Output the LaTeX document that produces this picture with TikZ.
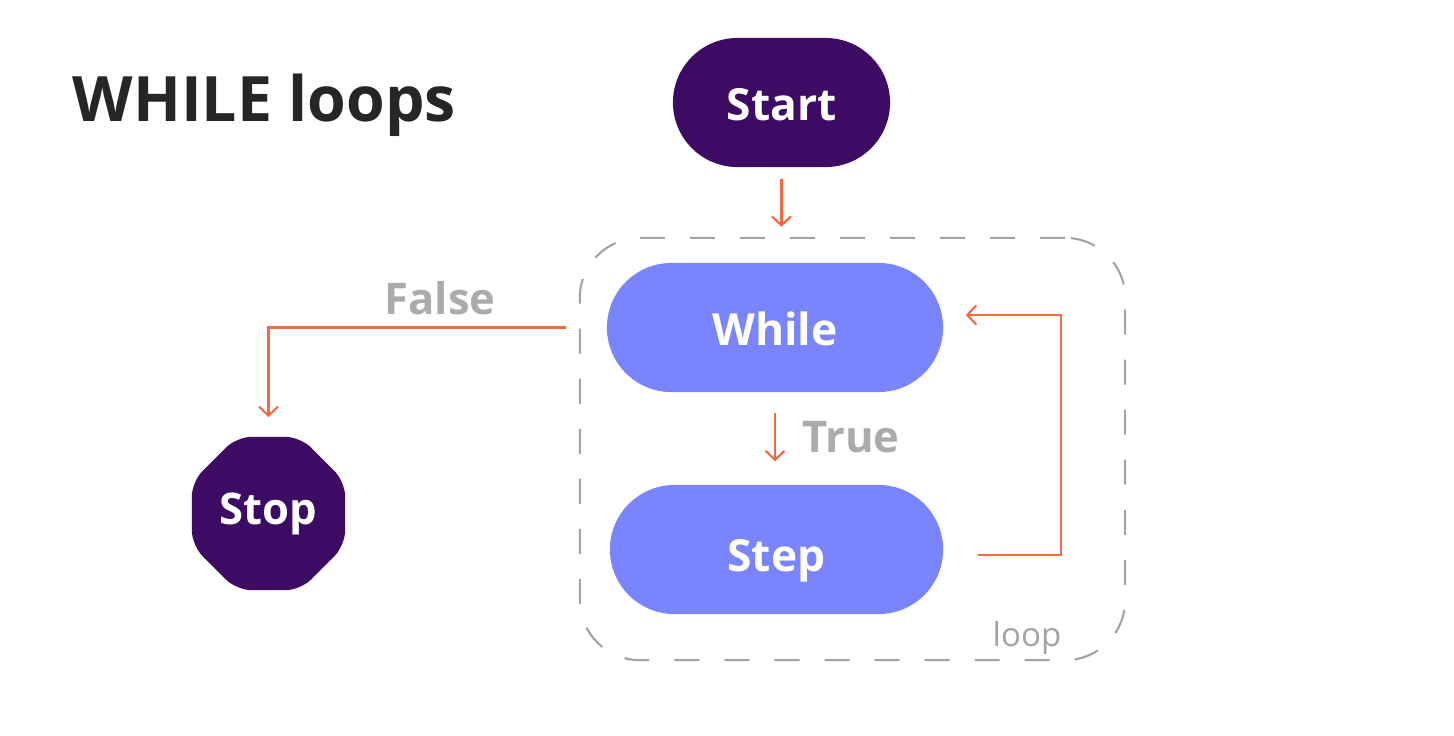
\documentclass[tikz,border=0pt]{standalone}
\usepackage{fontspec}
\setmainfont{Open Sans}
\usetikzlibrary{arrows.meta,shapes.geometric}

\definecolor{darkpurple}{HTML}{3D0B63}
\definecolor{periwinkle}{HTML}{7A84FC}
\definecolor{flow}{HTML}{F26A3D}
\definecolor{lbl}{HTML}{ABABAB}
\definecolor{boxgray}{HTML}{A3A3A3}
\definecolor{titlegray}{HTML}{262626}

\begin{document}
\begin{tikzpicture}[x=0.01cm, y=-0.01cm,
  pill/.style={rectangle, rounded corners=0.645cm, minimum height=1.29cm, inner sep=0, text height=0.36cm, text depth=0pt, text=white, font=\fontsize{12.6}{14}\selectfont\bfseries},
  arr/.style={flow, line width=0.6pt, -{Straight Barb[length=0.09cm, width=0.19cm]}},
  lab/.style={text=lbl, font=\fontsize{12.4}{14}\selectfont\bfseries}]
\useasboundingbox (0,0) rectangle (1454,735);
\node[anchor=base west, inner sep=0, text=titlegray, font=\fontsize{17.8}{21}\selectfont\bfseries] (title) at (72,121) {WHILE loops};
\node[pill, fill=darkpurple, minimum width=2.17cm] (start) at (781.5,102.5) {Start};
\node[draw=boxgray, line width=0.6pt, dash pattern=on 0.25cm off 0.25cm, rounded corners=0.6cm,
      minimum width=5.45cm, minimum height=4.22cm] (loopbox) at (852.5,449) {};
\node[pill, fill=periwinkle, minimum width=3.36cm] (while) at (775,327.5) {While};
\node[pill, fill=periwinkle, minimum width=3.33cm, text height=0.44cm] (step) at (776.5,549.5) {Step};
\node[regular polygon, regular polygon sides=8, fill=darkpurple, rounded corners=0.15cm,
      minimum size=1.66cm, inner sep=0, text=white, font=\fontsize{12.4}{14}\selectfont\bfseries] (stop) at (268.5,513.5) {Stop};
\node[text=boxgray, font=\fontsize{9.4}{11}\selectfont] (looplbl) at (1027,638) {loop};
\node[lab] (truelbl) at (851,437) {True};
\node[lab] (falselbl) at (440,298) {False};
% connectors
\draw[arr, shorten <=0.11cm, shorten >=0.10cm] (start.south) -- (loopbox.north -| start.south);
\draw[arr, shorten <=0.2cm, shorten >=0.23cm] (while.south) -- (while.south |- step.north);
\coordinate (ret) at (1061,315);
\draw[arr, shorten <=0.34cm, shorten >=0.22cm] ([yshift=-0.055cm]step.east) -| (ret) -- (while.east |- ret);
\draw[arr, shorten <=0.13cm, shorten >=0.19cm] (loopbox.west |- while.west) -| (stop.north);
\end{tikzpicture}
\end{document}
